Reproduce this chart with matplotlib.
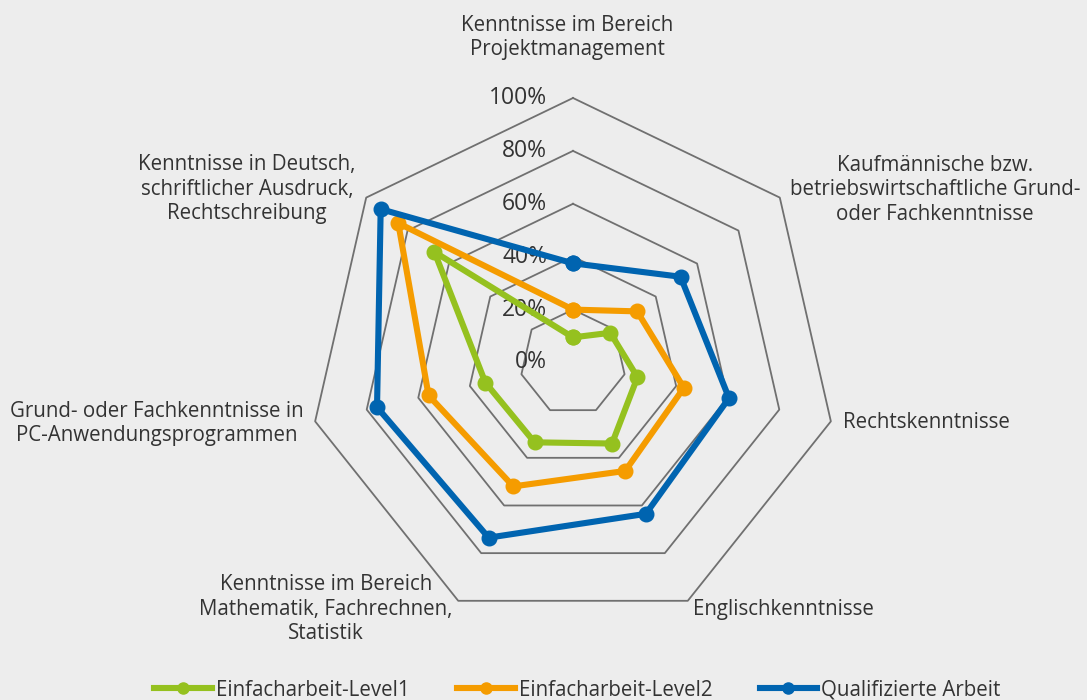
import numpy as np
import matplotlib
matplotlib.use("Agg")
import matplotlib.pyplot as plt
from matplotlib.lines import Line2D

plt.rcParams['font.family'] = ['Open Sans', 'DejaVu Sans']

categories = [
    "Kenntnisse im Bereich\nProjektmanagement",
    "Kaufmännische bzw.\nbetriebswirtschaftliche Grund-\noder Fachkenntnisse",
    "Rechtskenntnisse",
    "Englischkenntnisse",
    "Kenntnisse im Bereich\nMathematik, Fachrechnen,\nStatistik",
    "Grund- oder Fachkenntnisse in\nPC-Anwendungsprogrammen",
    "Kenntnisse in Deutsch,\nschriftlicher Ausdruck,\nRechtschreibung",
]
series_names = ["Einfacharbeit-Level1", "Einfacharbeit-Level2", "Qualifizierte Arbeit"]
level1 = [9.5, 18, 25, 34, 33.5, 34, 67]
level2 = [20, 31, 43, 45.5, 52, 56, 84.5]
qualified = [37.5, 52, 60.5, 63.5, 73.5, 76, 93]
ticks = [0, 20, 40, 60, 80, 100]
tick_labels = ["0%", "20%", "40%", "60%", "80%", "100%"]

colors = ["#95C11F", "#F59C00", "#0064B0"]
bg = "#EDEDED"
txt = "#333333"
W, H = 1087, 700

fig = plt.figure(figsize=(W / 100, H / 100), dpi=100, facecolor=bg)
cx, cy, R = 573, 362.5, 264.5
ax = fig.add_axes([(cx - R) / W, (H - cy - R) / H, 2 * R / W, 2 * R / H], projection='polar')
ax.set_facecolor(bg)
ax.patch.set_alpha(0)
ax.set_theta_offset(np.pi / 2)
ax.set_theta_direction(-1)
ax.set_ylim(0, 100)
ax.grid(False)
ax.spines['polar'].set_visible(False)
ax.set_xticks([])
ax.set_yticks([])

n = len(categories)
theta = np.linspace(0, 2 * np.pi, n, endpoint=False)
theta_c = np.append(theta, theta[0])

for t in ticks[1:]:
    ax.plot(theta_c, [t] * (n + 1), color="#707070", lw=1.3, zorder=1, clip_on=False)

for t, lab in zip(ticks, tick_labels):
    ax.annotate(lab, xy=(0, t), xytext=(-18.5, 0), textcoords='offset points',
                ha='right', va='center', fontsize=16.5, color=txt, zorder=2)

for vals, c, name in zip([level1, level2, qualified], colors, series_names):
    v = np.append(vals, vals[0])
    ax.plot(theta_c, v, color=c, lw=4.4, marker='o', markersize=10.5, label=name,
            zorder=3, clip_on=False, solid_joinstyle='round')

# category labels (pixel positions)
label_pos = [
    (567, 37.5, 'center'),
    (935, 190, 'center'),
    (843, 422, 'left'),
    (693, 609, 'left'),
    (326, 609, 'center'),
    (157, 423.5, 'center'),
    (247, 189, 'center'),
]
for text, (x, y, ha) in zip(categories, label_pos):
    fig.text(x / W, 1 - y / H, text, ha=ha, va='center', fontsize=14.8,
             color=txt, linespacing=1.22, multialignment='center')

handles = [Line2D([], [], color=c, lw=4.4, marker='o', markersize=8) for c in colors]
fig.legend(handles, series_names, loc='center', bbox_to_anchor=(577.5 / W, 1 - 690 / H),
           ncol=3, frameon=False, fontsize=14.8, handlelength=2.8, handletextpad=0.2,
           columnspacing=2.3, labelcolor=txt, borderpad=0)

fig.savefig("out.png", dpi=100, facecolor=bg)
